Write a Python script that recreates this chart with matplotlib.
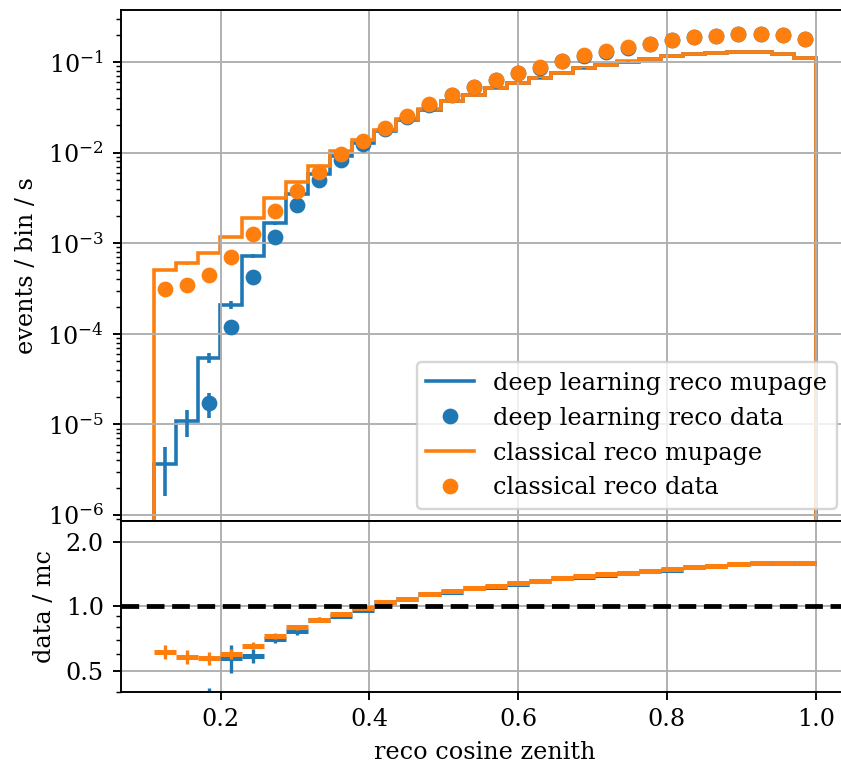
import numpy as np
import matplotlib
matplotlib.use("Agg")
import matplotlib.pyplot as plt
from matplotlib.ticker import NullFormatter

plt.rcParams['font.family'] = 'serif'

DPI = 172

# binning in reco cos(zenith)
edges = np.linspace(0.11, 1.0, 31)

# deep learning reco
dl_mc = [3.63e-6, 1.08e-5, 5.44e-5, 2.09e-4, 7.26e-4, 1.667e-3, 3.47e-3, 5.78e-3, 9.2e-3, 1.288e-2,
         0.0172, 0.0229, 0.0297, 0.0369, 0.0432, 0.0510, 0.0588, 0.0658, 0.0758, 0.0851,
         0.0928, 0.1009, 0.1081, 0.1166, 0.1226, 0.1258, 0.1291, 0.1291, 0.1231, 0.1110]
dl_mc_err = [2.0e-6, 3.5e-6, 7.0e-6, 2.0e-5, 3.6e-5, 6.0e-5, 9.0e-5, 1.2e-4, 1.6e-4, 1.9e-4,
             2.2e-4, 2.6e-4, 3.0e-4, 3.3e-4, 3.6e-4, 3.9e-4, 4.2e-4, 4.4e-4, 4.7e-4, 5.0e-4,
             5.2e-4, 5.4e-4, 5.6e-4, 5.8e-4, 6.0e-4, 6.1e-4, 6.2e-4, 6.2e-4, 6.0e-4, 5.7e-4]
dl_data = [np.nan, np.nan, 1.71e-5, 1.20e-4, 4.27e-4, 1.18e-3, 2.65e-3, 5.0e-3, 8.3e-3, 1.236e-2,
           0.0180, 0.0247, 0.0338, 0.0431, 0.0525, 0.0628, 0.0750, 0.0860, 0.1022, 0.1172,
           0.1302, 0.1442, 0.1573, 0.1729, 0.1869, 0.1945, 0.2034, 0.2048, 0.1960, 0.1771]
dl_data_err = [0.0, 0.0, 5.2e-6, 1.4e-5, 2.6e-5, 4.3e-5, 6.5e-5, 9.0e-5, 1.15e-4, 1.4e-4,
               1.7e-4, 2.0e-4, 2.3e-4, 2.6e-4, 2.9e-4, 3.2e-4, 3.5e-4, 3.7e-4, 4.0e-4, 4.3e-4,
               4.6e-4, 4.8e-4, 5.0e-4, 5.3e-4, 5.5e-4, 5.6e-4, 5.7e-4, 5.7e-4, 5.6e-4, 5.3e-4]

# classical reco
cl_mc = [5.09e-4, 5.97e-4, 7.78e-4, 1.17e-3, 1.92e-3, 3.14e-3, 4.75e-3, 7.13e-3, 1.044e-2, 1.371e-2,
         0.0177, 0.0233, 0.0301, 0.0372, 0.0435, 0.0513, 0.0591, 0.0661, 0.0762, 0.0855,
         0.0932, 0.1013, 0.1085, 0.1170, 0.1230, 0.1262, 0.1295, 0.1295, 0.1235, 0.1114]
cl_mc_err = [1.5e-5, 1.7e-5, 2.0e-5, 2.5e-5, 3.2e-5, 4.0e-5, 5.0e-5, 6.0e-5, 7.0e-5, 8.0e-5,
             9.0e-5, 1.0e-4, 1.1e-4, 1.2e-4, 1.3e-4, 1.4e-4, 1.5e-4, 1.6e-4, 1.7e-4, 1.8e-4,
             1.9e-4, 2.0e-4, 2.1e-4, 2.2e-4, 2.2e-4, 2.3e-4, 2.3e-4, 2.3e-4, 2.2e-4, 2.1e-4]
cl_data = [3.12e-4, 3.48e-4, 4.45e-4, 7.0e-4, 1.258e-3, 2.28e-3, 3.79e-3, 6.18e-3, 9.59e-3, 1.346e-2,
           0.0185, 0.0252, 0.0344, 0.0437, 0.0532, 0.0636, 0.0761, 0.0869, 0.1031, 0.1182,
           0.1312, 0.1452, 0.1583, 0.1739, 0.1879, 0.1955, 0.2044, 0.2058, 0.1970, 0.1780]
cl_data_err = [2.2e-5, 2.4e-5, 2.7e-5, 3.3e-5, 4.5e-5, 6.0e-5, 7.8e-5, 1.0e-4, 1.2e-4, 1.5e-4,
               1.7e-4, 2.0e-4, 2.3e-4, 2.6e-4, 2.9e-4, 3.2e-4, 3.5e-4, 3.7e-4, 4.1e-4, 4.3e-4,
               4.6e-4, 4.8e-4, 5.0e-4, 5.3e-4, 5.5e-4, 5.6e-4, 5.7e-4, 5.7e-4, 5.6e-4, 5.3e-4]

series = [
    ("deep learning reco", "C0", dl_mc, dl_mc_err, dl_data, dl_data_err),
    ("classical reco", "C1", cl_mc, cl_mc_err, cl_data, cl_data_err),
]

centers = 0.5 * (edges[1:] + edges[:-1])

fig = plt.figure(figsize=(841 / DPI, 765 / DPI), dpi=DPI)
ax = fig.add_axes([0.1433, 0.3190, 0.866, 0.6680])
ax2 = fig.add_axes([0.1433, 0.0958, 0.866, 0.2232], sharex=ax)

for name, c, mc, mc_err, data, data_err in series:
    mc, mc_err = np.asarray(mc), np.asarray(mc_err)
    data, data_err = np.asarray(data), np.asarray(data_err)

    ax.stairs(mc, edges, baseline=1e-12, color=c, lw=1.5, label=name + " mupage")
    ax.errorbar(centers, mc, yerr=mc_err, fmt='none', ecolor=c, elinewidth=1.5)
    ax.plot(centers, data, 'o', color=c, ms=5.6, label=name + " data")
    ax.errorbar(centers, data, yerr=data_err, fmt='none', ecolor=c, elinewidth=1.5)

    ratio = data / mc
    ratio_err = ratio * np.sqrt((data_err / data) ** 2 + (mc_err / mc) ** 2)
    ax2.hlines(ratio, edges[:-1], edges[1:], color=c, lw=2.1)
    ax2.errorbar(centers, ratio, yerr=ratio_err, fmt='none', ecolor=c, elinewidth=1.4)

ax.set_yscale('log')
ax.set_ylim(8.6e-7, 0.375)
ax.set_xlim(0.0655, 1.0445)
ax.set_ylabel("events / bin / s")
ax.grid(True)
ax.legend(loc='lower right')
plt.setp(ax.get_xticklabels(), visible=False)

ax2.axhline(1.0, color='k', ls='--', lw=2)
ax2.set_yscale('log')
ax2.set_ylim(0.4, 2.5)
ax2.set_yticks([0.5, 1.0, 2.0])
ax2.set_yticklabels(["0.5", "1.0", "2.0"])
ax2.yaxis.set_minor_formatter(NullFormatter())
ax2.set_ylabel("data / mc")
ax2.set_xlabel("reco cosine zenith")
ax2.grid(True)

fig.savefig("out.png", dpi=DPI)
